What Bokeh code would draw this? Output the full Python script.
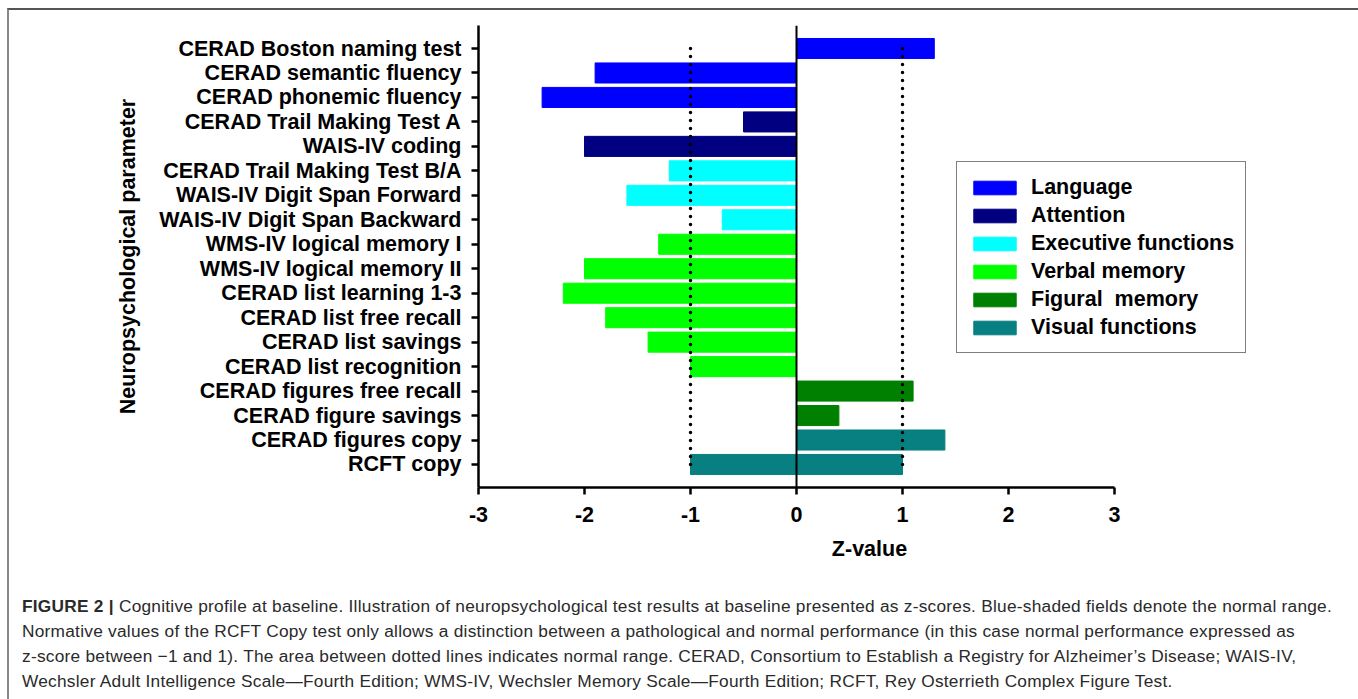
from bokeh.plotting import figure
from bokeh.models import (ColumnDataSource, FixedTicker, Span, Legend, LegendItem, Div, Range1d)
from bokeh.layouts import column
from bokeh.embed import file_html
from bokeh.resources import INLINE

# ---------------- data ----------------
tests = [
    "CERAD Boston naming test", "CERAD semantic fluency", "CERAD phonemic fluency",
    "CERAD Trail Making Test A", "WAIS-IV coding", "CERAD Trail Making Test B/A",
    "WAIS-IV Digit Span Forward", "WAIS-IV Digit Span Backward", "WMS-IV logical memory I",
    "WMS-IV logical memory II", "CERAD list learning 1-3", "CERAD list free recall",
    "CERAD list savings", "CERAD list recognition", "CERAD figures free recall",
    "CERAD figure savings", "CERAD figures copy", "RCFT copy",
]
bar_left = [0, -1.9, -2.4, -0.5, -2.0, -1.2, -1.6, -0.7, -1.3, -2.0, -2.2, -1.8, -1.4, -1.0, 0, 0, 0, -1.0]
bar_right = [1.3, 0, 0, 0, 0, 0, 0, 0, 0, 0, 0, 0, 0, 0, 1.1, 0.4, 1.4, 1.0]
domains = ["Language", "Language", "Language", "Attention", "Attention",
           "Executive functions", "Executive functions", "Executive functions",
           "Verbal memory", "Verbal memory", "Verbal memory", "Verbal memory",
           "Verbal memory", "Verbal memory", "Figural  memory", "Figural  memory",
           "Visual functions", "Visual functions"]
domain_order = ["Language", "Attention", "Executive functions", "Verbal memory",
                "Figural  memory", "Visual functions"]
domain_colors = ["#0000FF", "#000080", "#00FFFF", "#00FF00", "#008000", "#087F80"]
normal_range = [-1, 1]
x_ticks = [-3, -2, -1, 0, 1, 2, 3]

FONT = "Liberation Sans"
FS = "21.5px"

pos = list(range(len(tests)))
n = len(tests)

FRAME_W = 782           # frame extends right so the legend is not clipped
PX_PER_UNIT = 106.0

p = figure(width=1344, height=565, frame_width=FRAME_W, frame_height=462,
           min_border_left=469, min_border_right=93, min_border_top=15, min_border_bottom=88,
           x_range=Range1d(x_ticks[0], x_ticks[0] + FRAME_W / PX_PER_UNIT),
           y_range=Range1d(n - 1 + 0.94, -0.94),
           output_backend="svg", toolbar_location=None)
p.outline_line_color = None
p.grid.visible = False
p.background_fill_color = "white"
p.border_fill_color = "white"

legend_items = []
for dom, col in zip(domain_order, domain_colors):
    idx = [i for i, d in enumerate(domains) if d == dom]
    src = ColumnDataSource(dict(y=[pos[i] for i in idx],
                                left=[bar_left[i] for i in idx],
                                right=[bar_right[i] for i in idx]))
    r = p.hbar(y="y", left="left", right="right", height=0.82, source=src,
               fill_color=col, line_color=col, line_width=1)
    legend_items.append(LegendItem(label=dom, renderers=[r]))

# normal-range dotted lines
for xv in normal_range:
    p.segment(x0=[xv], x1=[xv], y0=[pos[0]], y1=[pos[-1] + 0.2], line_color="black",
              line_width=3.5, line_dash="0 8", line_cap="round")

# zero line
p.add_layout(Span(location=0, dimension="height", line_color="black", line_width=2))

# axes
xa = p.xaxis[0]
xa.ticker = FixedTicker(ticks=x_ticks)
xa.bounds = (x_ticks[0], x_ticks[-1])
xa.major_label_overrides = {v: str(v) for v in x_ticks}
xa.axis_label = "Z-value"
ya = p.yaxis[0]
ya.ticker = FixedTicker(ticks=pos)
ya.major_label_overrides = {i: t for i, t in zip(pos, tests)}
ya.axis_label = "Neuropsychological parameter"
for ax in (xa, ya):
    ax.axis_line_color = "black"
    ax.axis_line_width = 2.5
    ax.major_tick_line_color = "black"
    ax.major_tick_line_width = 2.5
    ax.major_tick_out = 7
    ax.major_tick_in = 0
    ax.minor_tick_line_color = None
    ax.major_label_text_font = FONT
    ax.major_label_text_font_style = "bold"
    ax.major_label_text_font_size = FS
    ax.major_label_text_color = "black"
    ax.axis_label_text_font = FONT
    ax.axis_label_text_font_style = "bold"
    ax.axis_label_text_font_size = FS
    ax.axis_label_text_color = "black"
xa.major_label_standoff = 12
xa.axis_label_standoff = 12
ya.major_label_standoff = 10
ya.axis_label_standoff = 16

legend = Legend(items=legend_items, location=(478, 134),
                label_text_font=FONT, label_text_font_style="bold",
                label_text_font_size=FS, label_text_color="black",
                glyph_width=53, glyph_height=17, label_height=28, spacing=0,
                label_standoff=10, padding=11, margin=0,
                border_line_color="black", border_line_width=1.5,
                background_fill_color="white", background_fill_alpha=1)
p.add_layout(legend, "center")

caption_html = (
    "<b>FIGURE 2 |</b> Cognitive profile at baseline. Illustration of neuropsychological test results "
    "at baseline presented as z-scores. Blue-shaded fields denote the normal range.<br>"
    "Normative values of the RCFT Copy test only allows a distinction between a pathological and "
    "normal performance (in this case normal performance expressed as<br>"
    "z-score between \u22121 and 1). The area between dotted lines indicates normal range. CERAD, "
    "Consortium to Establish a Registry for Alzheimer\u2019s Disease; WAIS-IV,<br>"
    "Wechsler Adult Intelligence Scale\u2014Fourth Edition; WMS-IV, Wechsler Memory Scale\u2014Fourth "
    "Edition; RCFT, Rey Osterrieth Complex Figure Test."
)
caption = Div(text=caption_html, width=1344, height=116,
              styles={"font-family": "Liberation Sans, Arial, sans-serif", "font-size": "17.3px",
                      "letter-spacing": "0.25px",
                      "line-height": "25px", "color": "#2a2a2a", "padding-left": "8px",
                      "padding-top": "13.5px", "white-space": "nowrap"})

layout = column(p, caption, spacing=0,
                styles={"margin-left": "7px", "margin-top": "8px",
                        "border-top": "2px solid #555", "border-left": "2px solid #888",
                        "border-right": "2px solid #888", "background": "white"})

open("out.html", "w").write(file_html(layout, INLINE))
